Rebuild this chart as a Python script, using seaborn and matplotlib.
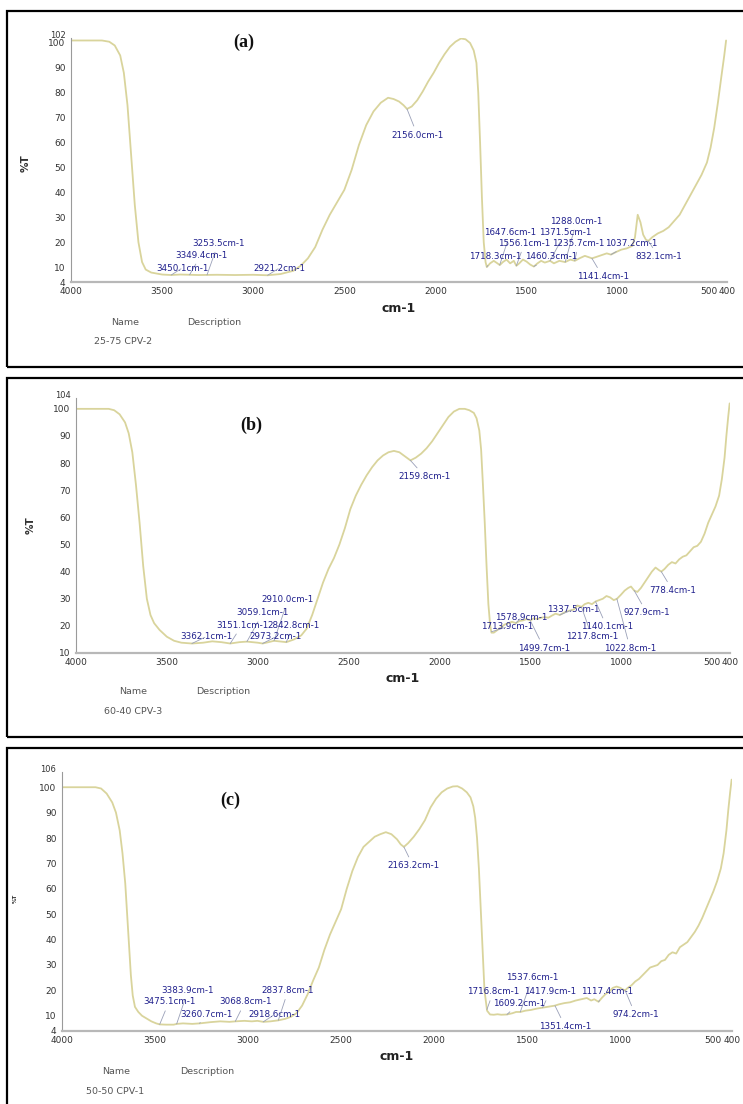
import numpy as np
import matplotlib
matplotlib.use("Agg")
import matplotlib.pyplot as plt
import matplotlib.transforms as mtransforms
from matplotlib.patches import Rectangle
import seaborn as sns

# ---------------- data ----------------
wn_a = [4000, 3900, 3830, 3790, 3760, 3730, 3710, 3690, 3670, 3650, 3630, 3610, 3590, 3560, 3500,
        3450, 3400, 3300, 3200, 3100, 3000, 2921, 2850, 2780, 2740, 2700, 2660, 2620, 2580, 2540,
        2500, 2460, 2420, 2380, 2340, 2300, 2260, 2230, 2200, 2175, 2156, 2130, 2100, 2070, 2040,
        2010, 1980, 1950, 1920, 1890, 1860, 1835, 1810, 1790, 1775, 1765, 1755, 1745, 1735, 1725,
        1718, 1700, 1680, 1660, 1647, 1630, 1610, 1590, 1570, 1556, 1540, 1520, 1500, 1480, 1460,
        1440, 1420, 1400, 1371, 1350, 1320, 1288, 1260, 1235, 1210, 1180, 1160, 1141, 1120, 1100,
        1080, 1060, 1037, 1010, 980, 950, 920, 905, 890, 875, 860, 845, 832, 810, 780, 750, 720,
        690, 660, 630, 600, 570, 540, 510, 490, 470, 450, 430, 415, 405]
t_a = [101, 101, 101, 100.5, 99, 95, 88, 75, 55, 35, 20, 12, 9, 7.8, 7,
       6.8, 7, 6.8, 6.9, 6.8, 6.9, 6.7, 7.2, 8.5, 10.5, 13.5, 18, 25, 31, 36,
       41, 49, 59, 67, 72.5, 76, 78, 77.5, 76.5, 75, 73.5, 74.5, 77, 80.5, 84.5,
       88, 92, 95.5, 98.5, 100.5, 101.8, 101.5, 100, 97, 92, 80, 60, 38, 20, 12,
       10, 11.5, 12.5, 11.5, 10.8, 12, 13, 11.5, 12.5, 10.5, 11.5, 13, 12.2, 11, 10.2,
       11.5, 12.5, 11.8, 12.5, 11.5, 12.5, 12, 13, 12.5, 13.5, 14.5, 14, 13.5, 14, 14.5,
       15, 15.5, 15, 16, 17, 17.5, 18.5, 22, 31, 28, 23, 21, 20.5, 22, 23.5, 24.5, 26,
       28.5, 31, 35, 39, 43, 47, 52, 58, 66, 76, 87, 95, 101]

wn_b = [4000, 3900, 3820, 3790, 3760, 3730, 3710, 3690, 3670, 3650, 3630, 3610, 3590, 3570, 3540,
        3500, 3460, 3420, 3362, 3300, 3250, 3200, 3151, 3100, 3059, 3000, 2973, 2940, 2910, 2870,
        2842, 2800, 2760, 2730, 2700, 2670, 2640, 2610, 2580, 2550, 2520, 2490, 2460, 2430, 2400,
        2370, 2340, 2310, 2280, 2250, 2220, 2190, 2159, 2130, 2100, 2070, 2040, 2010, 1980, 1950,
        1920, 1890, 1860, 1835, 1810, 1795, 1780, 1770, 1760, 1750, 1740, 1730, 1720, 1713, 1700,
        1680, 1660, 1640, 1620, 1600, 1578, 1560, 1540, 1520, 1499, 1480, 1460, 1440, 1420, 1400,
        1380, 1360, 1337, 1310, 1290, 1260, 1240, 1217, 1200, 1180, 1160, 1140, 1120, 1100, 1080,
        1060, 1040, 1022, 1000, 980, 960, 945, 927, 910, 890, 870, 850, 830, 810, 790, 778, 760,
        740, 720, 700, 680, 660, 640, 620, 600, 580, 560, 540, 520, 500, 480, 460, 445, 430, 420,
        410, 402]
t_b = [100, 100, 100, 99.5, 98, 95, 91, 84, 72, 58, 42, 30, 24, 21, 18.5,
       16, 14.5, 13.8, 13.5, 13.8, 14.3, 14, 13.5, 14, 14.2, 13.8, 13.5, 14, 14.5, 14.2,
       14, 15, 16.5, 19, 24, 30, 36, 41, 45, 50, 56, 63, 68, 72, 75.5,
       78.5, 81, 82.8, 84, 84.5, 84, 82.5, 81, 82, 83.5, 85.5, 88, 91, 94, 97,
       99, 100, 100, 99.5, 98.5, 96.5, 92, 85, 72, 58, 42, 28, 20, 17.5, 17.5,
       18.5, 19.5, 20.5, 21, 21.5, 21, 21.8, 22, 22.5, 22, 22.8, 22.5, 23, 23.2, 23,
       23.8, 24.5, 24, 25, 25.5, 26, 27.5, 27, 28, 28.5, 28, 29, 29.5, 30, 31,
       30.5, 29.5, 30, 31.5, 33, 34, 34.5, 33, 32.5, 34, 36, 38, 40, 41.5, 40.5, 40, 41,
       42.5, 43.5, 43, 44.5, 45.5, 46, 47.5, 49, 49.5, 51, 54, 58, 61, 64, 68, 74, 82, 90,
       97, 102]

wn_c = [4000, 3900, 3820, 3790, 3760, 3730, 3710, 3690, 3675, 3660, 3650, 3640, 3630, 3620, 3608,
        3590, 3570, 3543, 3520, 3494, 3475, 3440, 3400, 3383, 3350, 3300, 3260, 3200, 3150, 3100,
        3068, 3020, 2980, 2950, 2918, 2880, 2837, 2800, 2770, 2740, 2710, 2680, 2650, 2620, 2590,
        2560, 2530, 2500, 2470, 2440, 2410, 2380, 2350, 2320, 2290, 2260, 2230, 2200, 2180, 2163,
        2140, 2110, 2080, 2050, 2020, 1990, 1960, 1930, 1900, 1875, 1850, 1825, 1805, 1790, 1780,
        1770, 1760, 1750, 1740, 1730, 1716, 1700, 1680, 1660, 1640, 1609, 1580, 1560, 1537, 1510,
        1480, 1450, 1417, 1390, 1370, 1351, 1330, 1300, 1270, 1240, 1210, 1180, 1157, 1140, 1117,
        1100, 1080, 1060, 1040, 1020, 1000, 990, 974, 960, 940, 920, 900, 880, 860, 840, 820, 800,
        780, 760, 740, 720, 700, 680, 660, 640, 620, 600, 580, 560, 540, 520, 500, 480, 460, 445,
        430, 420, 410, 402]
t_c = [100, 100, 100, 99.5, 97.5, 94, 90, 83, 74, 62, 50, 38, 26, 18, 13.5,
       11.5, 10, 8.8, 7.8, 7, 6.6, 6.5, 6.5, 6.8, 7, 6.8, 7, 7.5, 7.8, 7.6,
       7.8, 8, 7.8, 8, 7.6, 7.8, 8.2, 8.8, 9.6, 11, 14, 18.5, 24, 29, 36,
       42, 47, 52, 60, 67, 72.5, 76.5, 78.5, 80.5, 81.5, 82.3, 81.5, 79.5, 77.5, 76.5,
       78, 80.5, 83.5, 87, 92, 95.5, 98, 99.5, 100.3, 100.4, 99.5, 98, 96, 92.5, 88,
       80, 68, 52, 36, 20, 12, 10.5, 10.4, 10.6, 10.4, 10.5, 11, 11.5, 11.5, 12,
       12.3, 12.8, 13.2, 13.5, 13.8, 14, 14.5, 15, 15.3, 16, 16.5, 17, 16, 16.5, 15.5,
       17, 18.5, 19.5, 21, 21.5, 21, 20.5, 20, 21, 22, 23.5, 24.5, 26, 27.5, 29, 29.5, 30,
       31.5, 32, 34, 35, 34.5, 37, 38, 39, 41, 43, 45.5, 48.5, 52, 55.5, 59, 63, 68, 74,
       83, 91, 98, 103]

peaks_a = ["3253.5", "3349.4", "3450.1", "2921.2", "2156.0", "1288.0", "1647.6", "1371.5",
           "1556.1", "1235.7", "1037.2", "1718.3", "1460.3", "832.1", "1141.4"]
peaks_b = ["2910.0", "3059.1", "3151.1", "2842.8", "3362.1", "2973.2", "2159.8", "1713.9",
           "1578.9", "1337.5", "927.9", "1140.1", "1217.8", "1499.7", "1022.8", "778.4"]
peaks_c = ["3383.9", "3475.1", "3068.8", "3260.7", "2918.6", "2837.8", "2163.2", "1537.6",
           "1716.8", "1417.9", "1117.4", "1609.2", "974.2", "1351.4"]

panel_tags = ["(a)", "(b)", "(c)"]
sample_names = ["25-75 CPV-2", "60-40 CPV-3", "50-50 CPV-1"]
yticks_a = [4, 10, 20, 30, 40, 50, 60, 70, 80, 90, 100, 102]
yticks_b = [10, 20, 30, 40, 50, 60, 70, 80, 90, 100, 104]
yticks_c = [4, 10, 20, 30, 40, 50, 60, 70, 80, 90, 100, 106]
xticks = [4000, 3500, 3000, 2500, 2000, 1500, 1000, 500, 400]

# ---------------- layout (pixels) ----------------
W, H = 743, 1104
# label text positions (wavenumber, %T) per panel
lab_pos_a = [(3192, 19.6), (3286, 14.8), (3390, 9.6), (2857, 9.6), (2099, 63), (1225, 28.5),
             (1588, 24), (1286, 24), (1511, 19.6), (1215, 19.6), (923, 19.6), (1670, 14.2),
             (1363, 14.2), (775, 14.2), (1082, 6.2)]
lab_pos_b = [(2833, 29.6), (2971, 24.8), (3086, 20.3), (2800, 20.3), (3284, 16), (2899, 16),
             (2079, 75), (1628, 19.6), (1550, 23), (1265, 26), (858, 24.8), (1078, 19.6),
             (1160, 16), (1424, 11.8), (950, 11.8), (715, 33)]
lab_pos_c = [(3323, 20), (3425, 15.5), (3016, 15.5), (3226, 10.4), (2860, 10.4), (2785, 20),
             (2113, 69), (1473, 25), (1683, 19.5), (1376, 19.5), (1070, 19.5), (1543, 15),
             (919, 10.4), (1296, 5.7)]

sns.set_style("white")
plt.rcParams["font.family"] = ["DejaVu Sans"]

fig = plt.figure(figsize=(W / 100, H / 100), dpi=100)
fig.patch.set_facecolor("white")


def fx(px):
    return px / W


def fy(py):
    return 1 - py / H


LINE = "#d9d49c"
LABC = "#1f1f8c"

panels = [
    dict(wn=wn_a, t=t_a, peaks=peaks_a, pos=lab_pos_a, yt=yticks_a, ylim=(4, 102),
         box=(7, 11, 367), ax=(71, 727, 38, 282), tag=(244, 42), ylab=(26, 163, 7.5),
         name=(125, 214, 322, 123, 341)),
    dict(wn=wn_b, t=t_b, peaks=peaks_b, pos=lab_pos_b, yt=yticks_b, ylim=(10, 104),
         box=(7, 378, 737), ax=(76, 730, 398, 653), tag=(251, 425), ylab=(31, 525, 7.5),
         name=(133, 223, 692, 133, 712)),
    dict(wn=wn_c, t=t_c, peaks=peaks_c, pos=lab_pos_c, yt=yticks_c, ylim=(4, 106),
         box=(7, 748, 1110), ax=(62, 732, 772, 1031), tag=(230, 800), ylab=(15, 898, 4),
         name=(116, 207, 1072, 115, 1091)),
]

for i, p in enumerate(panels):
    # panel frame
    x0, top, bot = p["box"]
    fig.patches.append(Rectangle((fx(x0), fy(bot)), fx(W + 20 - x0), (bot - top) / H,
                                 transform=fig.transFigure, fill=False, ec="black", lw=1.6,
                                 zorder=0))
    l, r, t_, b_ = p["ax"]
    ax = fig.add_axes([fx(l), fy(b_), (r - l) / W, (b_ - t_) / H])
    ax.set_facecolor("none")
    sns.lineplot(x=p["wn"], y=p["t"], ax=ax, color=LINE, lw=1.3, sort=False)
    ax.set_xlim(4000, 400)
    ax.set_ylim(*p["ylim"])
    ax.set_xticks(xticks)
    ax.set_xticklabels([str(v) for v in xticks])
    ax.set_yticks(p["yt"])
    ax.set_yticklabels([str(v) for v in p["yt"]])
    ax.tick_params(axis="both", labelsize=6.5, colors="#333333", length=2.5, width=0.6,
                   pad=1.5, direction="out")
    ax.tick_params(axis="x", pad=1)
    # nudge the topmost / bottommost y labels apart from their neighbours
    ylabels = ax.get_yticklabels()
    ylabels[-1].set_transform(ylabels[-1].get_transform() +
                              mtransforms.ScaledTranslation(0, 3 / 100, fig.dpi_scale_trans))
    ylabels[-1].set_fontsize(6)
    for s in ["top", "right"]:
        ax.spines[s].set_visible(False)
    ax.spines["left"].set_color("#9a9a9a")
    ax.spines["left"].set_linewidth(0.8)
    ax.spines["bottom"].set_color("#b8b8b8")
    ax.spines["bottom"].set_linewidth(1.6)
    ax.set_xlabel("")
    ax.set_ylabel("")

    # annotations
    for lab, (lx, ly) in zip(p["peaks"], p["pos"]):
        pk = float(lab)
        py_ = float(np.interp(pk, p["wn"][::-1], p["t"][::-1]))
        ax.annotate(lab + "cm-1", xy=(pk, py_), xytext=(lx, ly), textcoords="data",
                    ha="center", va="center", fontsize=6.3, color=LABC,
                    arrowprops=dict(arrowstyle="-", color="#9aa0b8", lw=0.6,
                                    shrinkA=1, shrinkB=0))

    # axis titles
    fig.text(fx((l + r) / 2), fy(b_ + 26), "cm-1", ha="center", va="center",
             fontsize=9, fontweight="bold", color="#222222")
    yx, yy, ys = p["ylab"]
    fig.text(fx(yx), fy(yy), "%T", rotation=90, ha="center", va="center",
             fontsize=ys, fontweight="bold", color="#333333")
    tx, ty = p["tag"]
    fig.text(fx(tx), fy(ty), panel_tags[i], ha="center", va="center", fontsize=13,
             family="Liberation Serif", fontweight="bold", color="#111111")
    nx, dx, ny, sx, sy = p["name"]
    fig.text(fx(nx), fy(ny), "Name", ha="center", va="center", fontsize=6.8, color="#555555")
    fig.text(fx(dx), fy(ny), "Description", ha="center", va="center", fontsize=6.8,
             color="#555555")
    fig.text(fx(sx), fy(sy), sample_names[i], ha="center", va="center", fontsize=6.8,
             color="#555555")

fig.savefig("out.png", dpi=100, facecolor="white")
